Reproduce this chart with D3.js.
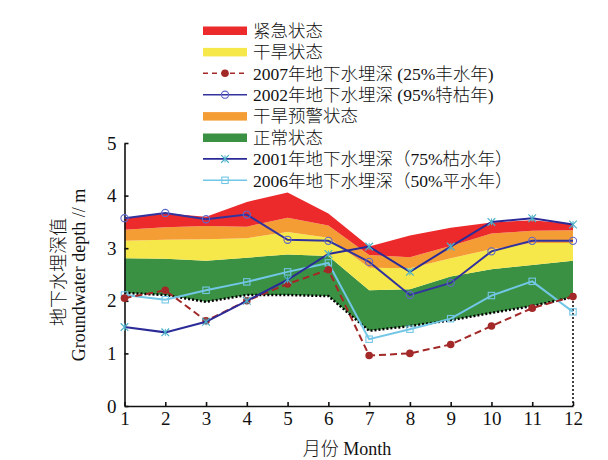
<!DOCTYPE html>
<html>
<head>
<meta charset="utf-8">
<script src="https://cdn.jsdelivr.net/npm/d3@7"></script>
<style>
  body { margin: 0; background: #fff; }
  text { font-family: "Liberation Serif", "Noto Sans CJK SC", serif; fill: #111; font-weight: 300; }
</style>
</head>
<body>
<div id="chart"></div>
<script>
// months on the x axis
var months = [1, 2, 3, 4, 5, 6, 7, 8, 9, 10, 11, 12];
var yTicks = [0, 1, 2, 3, 4, 5];

// band boundaries (groundwater depth, m)
var normalLow    = [2.15, 2.11, 1.98, 2.11, 2.11, 2.09, 1.43, 1.52, 1.63, 1.77, 1.90, 2.07];
var normalTop    = [2.81, 2.80, 2.76, 2.82, 2.88, 2.85, 2.20, 2.22, 2.46, 2.60, 2.68, 2.76];
var droughtTop   = [3.14, 3.16, 3.17, 3.19, 3.31, 3.20, 2.63, 2.62, 2.81, 2.98, 3.10, 3.10];
var warningTop   = [3.35, 3.40, 3.42, 3.41, 3.58, 3.43, 2.87, 2.83, 3.04, 3.28, 3.33, 3.34];
var emergencyTop = [3.57, 3.66, 3.60, 3.88, 4.06, 3.66, 3.03, 3.24, 3.39, 3.49, 3.53, 3.46];

// yearly groundwater depth series
var depth2007 = [2.05, 2.20, 1.62, 2.00, 2.32, 2.59, 0.96, 1.00, 1.17, 1.52, 1.86, 2.08];
var depth2002 = [3.57, 3.67, 3.55, 3.64, 3.16, 3.14, 2.74, 2.11, 2.34, 2.94, 3.14, 3.14];
var depth2001 = [1.50, 1.40, 1.60, 2.00, 2.40, 2.89, 3.03, 2.55, 3.03, 3.50, 3.57, 3.45];
var depth2006 = [2.11, 2.02, 2.20, 2.36, 2.55, 2.72, 1.27, 1.46, 1.66, 2.10, 2.37, 1.79];

var legendLabels = [
  "紧急状态", "干旱状态", "2007年地下水埋深 (25%丰水年)", "2002年地下水埋深 (95%特枯年)",
  "干旱预警状态", "正常状态", "2001年地下水埋深（75%枯水年）", "2006年地下水埋深（50%平水年）"
];

var colors = {
  red: "#ec2a2c", orange: "#f59d35", yellow: "#f6e84a", green: "#3b9143",
  c2007: "#a32828", c2002: "#33339e", m2002: "#6068c8", c2001: "#2b2b98", m2001: "#4cb0c8", c2006: "#72c6e6"
};

var width = 608, height = 460;
var svg = d3.select("#chart").append("svg")
  .attr("width", width).attr("height", height);

var x = d3.scaleLinear().domain([1, 12]).range([124.5, 573]);
var y = d3.scaleLinear().domain([0, 5]).range([406, 143]);

//Stacked bands: each one sits between two boundary arrays.
var bands = [
  { lo: normalLow, hi: normalTop, color: colors.green },
  { lo: normalTop, hi: droughtTop, color: colors.yellow },
  { lo: droughtTop, hi: warningTop, color: colors.orange },
  { lo: warningTop, hi: emergencyTop, color: colors.red }
];

bands.forEach(function(b) {
  var area = d3.area()
    .x(function(d, i) { return x(months[i]); })
    .y0(function(d, i) { return y(b.lo[i]); })
    .y1(function(d, i) { return y(b.hi[i]); });
  svg.append("path")
    .datum(months)
    .attr("d", area)
    .attr("fill", b.color);
});

// dotted lower boundary of the normal band
var line = d3.line()
  .x(function(d, i) { return x(months[i]); })
  .y(function(d) { return y(d); });

svg.append("path")
  .datum(normalLow)
  .attr("d", line)
  .attr("fill", "none")
  .attr("stroke", "#000")
  .attr("stroke-width", 2.5)
  .attr("stroke-dasharray", "2,2");

// dotted drop line at December
svg.append("line")
  .attr("x1", x(12)).attr("x2", x(12))
  .attr("y1", y(normalLow[11])).attr("y2", y(0))
  .attr("stroke", "#000")
  .attr("stroke-width", 1.5)
  .attr("stroke-dasharray", "2,2");

// axes
var yAxis = d3.axisLeft(y).tickValues(yTicks).tickFormat(d3.format("d"))
  .tickSizeInner(-4).tickSizeOuter(0).tickPadding(8);
var xAxis = d3.axisBottom(x).tickValues(months).tickFormat(d3.format("d"))
  .tickSizeInner(-4).tickSizeOuter(0).tickPadding(6);

var gy = svg.append("g").attr("transform", "translate(" + x(1) + ",0)").call(yAxis);
var gx = svg.append("g").attr("transform", "translate(0," + y(0) + ")").call(xAxis);

[gx, gy].forEach(function(g) {
  g.selectAll("path, line").attr("stroke", "#111").attr("stroke-width", 1.6);
  g.selectAll("text").attr("font-size", 19).attr("fill", "#111")
    .style("font-family", "'Liberation Serif', serif");
});

// series drawing helper
function drawSeries(values, stroke, dash, marker) {
  svg.append("path")
    .datum(values)
    .attr("d", line)
    .attr("fill", "none")
    .attr("stroke", stroke)
    .attr("stroke-width", 2)
    .attr("stroke-dasharray", dash);
  var g = svg.append("g");
  values.forEach(function(v, i) {
    marker(g, x(months[i]), y(v));
  });
}

function dotMarker(g, cx, cy) {
  g.append("circle").attr("cx", cx).attr("cy", cy).attr("r", 3.8).attr("fill", colors.c2007);
}
function ringMarker(g, cx, cy) {
  g.append("circle").attr("cx", cx).attr("cy", cy).attr("r", 3.6)
    .attr("fill", "none").attr("stroke", colors.m2002).attr("stroke-width", 1.1);
}
function crossMarker(g, cx, cy) {
  var sym = d3.symbol().type(d3.symbolTimes || d3.symbolCross).size(40);
  g.append("path").attr("d", sym()).attr("transform", "translate(" + cx + "," + cy + ")")
    .attr("fill", "none").attr("stroke", colors.m2001).attr("stroke-width", 1.2);
  g.append("line").attr("x1", cx).attr("x2", cx).attr("y1", cy - 3.5).attr("y2", cy + 3.5)
    .attr("stroke", colors.m2001).attr("stroke-width", 1);
}
function squareMarker(g, cx, cy) {
  g.append("rect").attr("x", cx - 3.2).attr("y", cy - 3.2).attr("width", 6.4).attr("height", 6.4)
    .attr("fill", "none").attr("stroke", colors.c2006).attr("stroke-width", 1.1);
}

drawSeries(depth2006, colors.c2006, null, squareMarker);
drawSeries(depth2007, colors.c2007, "7,4", dotMarker);
drawSeries(depth2002, colors.c2002, null, ringMarker);
drawSeries(depth2001, colors.c2001, null, crossMarker);

// axis titles
svg.append("text")
  .attr("x", 347).attr("y", 455)
  .attr("text-anchor", "middle")
  .attr("font-size", 18)
  .text("月份 Month");

svg.append("text")
  .attr("transform", "translate(65,272) rotate(-90)")
  .attr("text-anchor", "middle")
  .attr("font-size", 18)
  .text("地下水埋深值");

svg.append("text")
  .attr("transform", "translate(85,275) rotate(-90)")
  .attr("text-anchor", "middle")
  .attr("font-size", 18)
  .text("Groundwater depth // m");

// legend
var legendKinds = [
  { type: "bar", color: colors.red },
  { type: "bar", color: colors.yellow },
  { type: "line", color: colors.c2007, dash: "5,4", marker: dotMarker },
  { type: "line", color: colors.c2002, marker: ringMarker },
  { type: "bar", color: colors.orange },
  { type: "bar", color: colors.green },
  { type: "line", color: colors.c2001, marker: crossMarker },
  { type: "line", color: colors.c2006, marker: squareMarker }
];

var lg = svg.append("g");
legendLabels.forEach(function(label, i) {
  var cy = 30.5 + i * 21.4;
  var k = legendKinds[i];
  if (k.type === "bar") {
    lg.append("rect").attr("x", 203).attr("y", cy - 4).attr("width", 44).attr("height", 8.5)
      .attr("fill", k.color);
  } else {
    lg.append("line").attr("x1", 203).attr("x2", 247).attr("y1", cy).attr("y2", cy)
      .attr("stroke", k.color).attr("stroke-width", 1.6)
      .attr("stroke-dasharray", k.dash || null);
    k.marker(lg, 225, cy);
  }
  lg.append("text")
    .attr("x", 253).attr("y", cy)
    .attr("dy", "0.36em")
    .attr("font-size", 17.5)
    .text(label);
});
</script>
</body>
</html>
